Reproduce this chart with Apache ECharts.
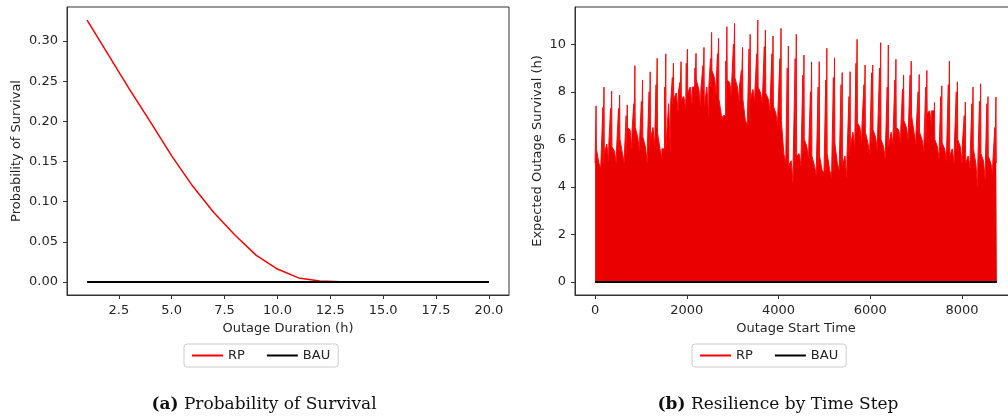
<!DOCTYPE html>
<html>
<head>
<meta charset="utf-8">
<script src="https://cdn.jsdelivr.net/npm/echarts@6/dist/echarts.min.js"></script>
<style>
  html, body { margin: 0; padding: 0; background: #fff; }
  #main { width: 1008px; height: 418px; }
</style>
</head>
<body>
<div id="main"></div>
<script>
// (a) probability of survival by outage duration
var durations = [1, 2, 3, 4, 5, 6, 7, 8, 9, 10, 11, 12, 13, 14, 15, 16, 17, 18, 19, 20];
var rpSurvival = [0.326, 0.283, 0.240, 0.199, 0.157, 0.119, 0.086, 0.058, 0.033, 0.016,
                  0.005, 0.001, 0.0002, 0, 0, 0, 0, 0, 0, 0];
var bauSurvival = [0, 0, 0, 0, 0, 0, 0, 0, 0, 0, 0, 0, 0, 0, 0, 0, 0, 0, 0, 0];

// (b) expected survival by outage start hour, read week by week
var startFill = 5.0;
var lastHour = 8759;
var peakHour = [22, 195, 362, 536, 702, 869, 1035, 1202, 1354, 1542, 1709, 1875, 2013, 2201,
                2375, 2541, 2693, 2874, 3041, 3215, 3381, 3548, 3714, 3880, 4054, 4214, 4387,
                4554, 4720, 4887, 5053, 5220, 5387, 5560, 5712, 5886, 6053, 6226, 6393, 6559,
                6726, 6892, 7066, 7233, 7399, 7559, 7725, 7899, 8072, 8239, 8405, 8565, 8739];
var peakValue = [7.41, 8.20, 8.03, 7.86, 7.45, 9.10, 8.50, 8.84, 9.41, 9.60, 9.20, 9.27, 9.79, 9.62,
                 9.87, 10.50, 10.25, 10.74, 10.88, 9.87, 10.42, 11.02, 10.60, 10.35, 10.67, 9.93, 10.42,
                 9.55, 9.26, 9.27, 9.83, 9.43, 8.81, 8.85, 10.21, 9.13, 9.13, 10.07, 9.97, 9.37,
                 8.71, 9.29, 8.73, 8.90, 7.55, 8.25, 9.29, 8.42, 7.57, 8.20, 8.34, 7.80, 7.78];
var prePeak = [6.0, 7.35, 7.30, 7.30, 7.00, 7.50, 7.60, 8.00, 8.30, 8.20, 8.60, 8.40, 9.20, 9.00,
               9.10, 9.40, 9.60, 9.30, 10.0, 8.90, 9.80, 9.60, 9.90, 9.60, 9.40, 9.00, 9.40,
               8.70, 8.00, 8.20, 8.50, 8.60, 8.30, 7.80, 9.20, 8.30, 8.80, 9.00, 8.20, 8.50,
               8.10, 8.70, 8.00, 8.20, 7.20, 7.80, 8.30, 8.00, 7.00, 7.50, 7.60, 7.50, 6.50];
var postFill = [5.6, 5.4, 5.7, 6.0, 6.5, 6.5, 6.1, 6.0, 6.3, 5.7, 7.7, 7.7, 7.95, 8.5,
                7.4, 8.9, 7.7, 8.5, 8.6, 7.7, 7.7, 8.2, 7.95, 7.4, 6.8, 4.9, 5.3,
                6.0, 5.3, 5.3, 5.4, 5.85, 4.9, 5.7, 6.7, 6.3, 6.4, 6.0, 5.7, 6.5,
                6.8, 7.0, 6.3, 7.1, 6.0, 5.85, 5.3, 6.0, 5.0, 5.6, 5.4, 5.3, 5.0];
var weekLow = [5.0, 5.8, 5.5, 5.4, 6.4, 6.1, 5.7, 6.5, 5.6, 7.5, 7.95, 7.8, 8.2, 8.1,
               8.2, 8.6, 7.0, 8.4, 8.2, 6.8, 8.1, 7.95, 7.7, 7.1, 5.4, 5.1, 5.4,
               5.7, 4.9, 4.7, 4.7, 5.0, 5.3, 6.3, 6.5, 5.85, 6.1, 5.7, 6.3, 6.4,
               6.5, 6.3, 6.0, 7.2, 5.7, 5.6, 5.6, 5.7, 5.3, 5.0, 5.1, 5.0, 5.0];
var weekDip = [4.8, 5.1, 5.0, 5.0, 5.6, 5.5, 5.0, 5.7, 5.2, 5.5, 7.2, 7.3, 7.5, 7.4,
               7.0, 7.9, 6.9, 7.8, 7.6, 6.6, 7.6, 7.5, 7.2, 6.6, 5.0, 4.2, 4.9,
               5.2, 4.5, 4.6, 4.4, 4.7, 4.4, 5.7, 5.9, 5.4, 5.6, 5.2, 5.8, 5.9,
               6.0, 5.8, 5.5, 6.6, 5.2, 5.1, 5.0, 5.0, 4.8, 4.0, 4.3, 4.6, 4.8];
var bauHours = [0, 8759];
var bauResilience = [0, 0];

// tick labels
var survivalTicksX = [2.5, 5, 7.5, 10, 12.5, 15, 17.5, 20];
var survivalTicksY = [0, 0.05, 0.10, 0.15, 0.20, 0.25, 0.30];
var hourTicksX = [0, 2000, 4000, 6000, 8000];
var hourTicksY = [0, 2, 4, 6, 8, 10];

function pairs(xs, ys) {
  var out = [];
  for (var i = 0; i < xs.length; i++) out.push([xs[i], ys[i]]);
  return out;
}

function buildResilience() {
  var pts = [[0, startFill]];
  function add(x, y) { if (x > 0 && x <= lastHour) pts.push([x, y]); }
  for (var i = 0; i < peakHour.length; i++) {
    var h = peakHour[i];
    var prev = i === 0 ? startFill : weekLow[i - 1];
    add(h - 28, prev);
    add(h - 25, prePeak[i]);
    add(h - 22, prev);
    add(h - 3, prev);
    add(h - 1, peakValue[i]);
    add(h + 1, peakValue[i]);
    add(h + 6, postFill[i]);
    add(h + 60, weekLow[i]);
    add(h + 100, weekDip[i]);
    add(h + 104, weekLow[i]);
  }
  pts.push([lastHour, postFill[postFill.length - 1]]);
  return pts;
}

var font = 'DejaVu Sans';
var textColor = '#262626';
var frame = '#333333';

function axisBase(ticks, fmt) {
  return {
    type: 'value',
    splitLine: { show: false },
    axisLine: { show: true, onZero: false, lineStyle: { color: frame, width: 1 } },
    axisTick: { show: true, inside: false, length: 4, customValues: ticks, lineStyle: { color: frame } },
    axisLabel: { customValues: ticks, formatter: fmt, color: textColor, fontFamily: font, fontSize: 13, margin: 9 },
    nameLocation: 'middle',
    nameTextStyle: { color: textColor, fontFamily: font, fontSize: 13 }
  };
}

var myChart = echarts.init(document.getElementById('main'));

var xa0 = axisBase(survivalTicksX, function (v) { return v.toFixed(1); });
xa0.gridIndex = 0; xa0.min = 0.05; xa0.max = 20.95; xa0.name = 'Outage Duration (h)'; xa0.nameGap = 27;
var ya0 = axisBase(survivalTicksY, function (v) { return v.toFixed(2); });
ya0.gridIndex = 0; ya0.min = -0.0163; ya0.max = 0.3423; ya0.name = 'Probability of Survival'; ya0.nameGap = 44;
var xa1 = axisBase(hourTicksX, function (v) { return String(v); });
xa1.gridIndex = 1; xa1.min = -438; xa1.max = 9197; xa1.name = 'Outage Start Time'; xa1.nameGap = 27;
var ya1 = axisBase(hourTicksY, function (v) { return String(v); });
ya1.gridIndex = 1; ya1.min = -0.55; ya1.max = 11.57; ya1.name = 'Expected Outage Survival (h)'; ya1.nameGap = 31;

var legendBase = {
  orient: 'horizontal',
  top: 344,
  data: ['RP', 'BAU'],
  icon: 'rect',
  itemWidth: 31,
  itemHeight: 2,
  itemGap: 22,
  padding: [5, 8],
  borderColor: '#cccccc',
  borderWidth: 1,
  borderRadius: 3,
  backgroundColor: '#ffffff',
  textStyle: { color: textColor, fontFamily: font, fontSize: 13 },
  selectedMode: false
};

var captionStyle = {
  fontFamily: 'DejaVu Serif', fontSize: 17, fontWeight: 'normal', color: '#111',
  rich: { b: { fontFamily: 'DejaVu Serif', fontSize: 17, fontWeight: 'bold', color: '#111' } }
};

var option = {
  animation: false,
  backgroundColor: '#ffffff',
  title: [
    { text: '{b|(a)} Probability of Survival', left: 259, top: 391, textAlign: 'center', textStyle: captionStyle },
    { text: '{b|(b)} Resilience by Time Step', left: 773, top: 391, textAlign: 'center', textStyle: captionStyle }
  ],
  legend: [
    Object.assign({}, legendBase, { left: 184 }),
    Object.assign({}, legendBase, { left: 692 })
  ],
  grid: [
    { left: 67, top: 7, width: 442, height: 288, show: true, borderColor: frame, borderWidth: 1,
      backgroundColor: 'transparent', containLabel: false, outerBoundsMode: 'none' },
    { left: 575, top: 7, width: 442, height: 288, show: true, borderColor: frame, borderWidth: 1,
      backgroundColor: 'transparent', containLabel: false, outerBoundsMode: 'none' }
  ],
  xAxis: [xa0, xa1],
  yAxis: [ya0, ya1],
  series: [
    {
      name: 'RP', type: 'line', xAxisIndex: 0, yAxisIndex: 0,
      data: pairs(durations, rpSurvival), showSymbol: false, symbol: 'none',
      lineStyle: { color: '#ff0000', width: 1.5 }, itemStyle: { color: '#ff0000' }
    },
    {
      name: 'BAU', type: 'line', xAxisIndex: 0, yAxisIndex: 0,
      data: pairs(durations, bauSurvival), showSymbol: false, symbol: 'none',
      lineStyle: { color: '#000000', width: 2 }, itemStyle: { color: '#000000' }
    },
    {
      name: 'RP', type: 'line', xAxisIndex: 1, yAxisIndex: 1,
      data: buildResilience(), showSymbol: false, symbol: 'none', sampling: null,
      lineStyle: { color: '#ff0a0a', width: 1 }, itemStyle: { color: '#ff0000' },
      areaStyle: { color: '#eb0000', opacity: 1, origin: 'auto' }
    },
    {
      name: 'BAU', type: 'line', xAxisIndex: 1, yAxisIndex: 1,
      data: pairs(bauHours, bauResilience), showSymbol: false, symbol: 'none',
      lineStyle: { color: '#000000', width: 2 }, itemStyle: { color: '#000000' }
    }
  ]
};
myChart.setOption(option);
</script>
</body>
</html>
